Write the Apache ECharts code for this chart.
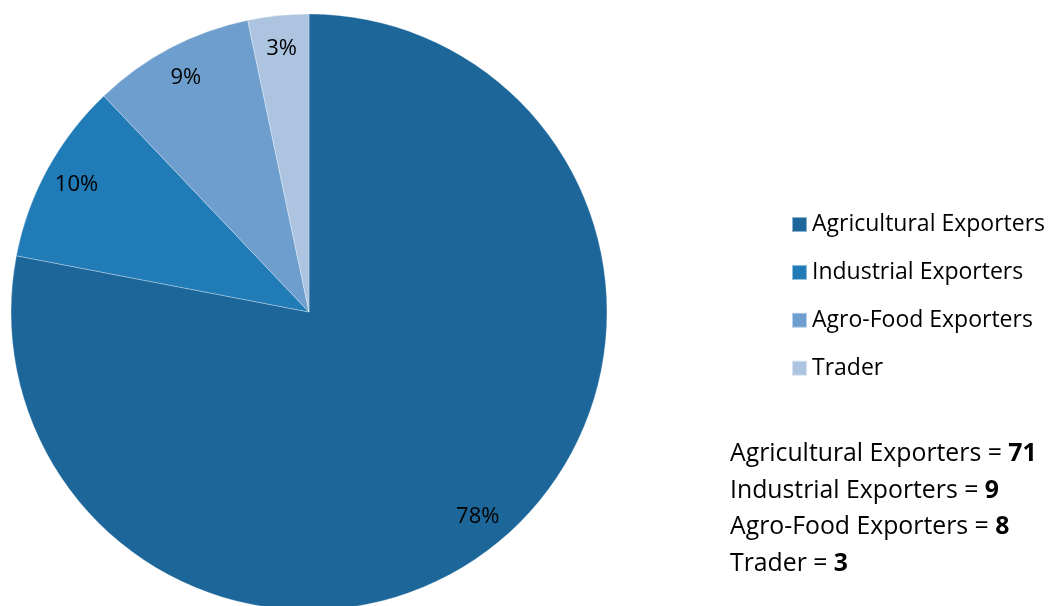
<!DOCTYPE html>
<html>
<head>
<meta charset="utf-8">
<script src="https://cdn.jsdelivr.net/npm/echarts@6/dist/echarts.min.js"></script>
<style>
  html, body { margin: 0; padding: 0; background: #ffffff; }
  #chart { width: 1050px; height: 606px; }
</style>
</head>
<body>
<div id="chart"></div>
<script>
// Exporter categories and their counts
const categories = ['Agricultural Exporters', 'Industrial Exporters', 'Agro-Food Exporters', 'Trader'];
const counts = [71, 9, 8, 3];
const colors = ['#1c6699', '#207bb7', '#6d9ecd', '#adc4e1'];

const FONT = '"Open Sans"';

const chart = echarts.init(document.getElementById('chart'), null, { renderer: 'canvas' });

const pieData = categories.map((name, i) => ({
  name: name,
  value: counts[i],
  itemStyle: { color: colors[i] }
}));

// Summary lines: "Name = <bold count>"
const summaryText = categories.map((name, i) => name + ' = {b|' + counts[i] + '}').join('\n');

chart.setOption({
  animation: false,
  backgroundColor: '#ffffff',
  legend: {
    orient: 'vertical',
    left: 786,
    top: 208,
    itemWidth: 15,
    itemHeight: 15,
    itemGap: 24.9,
    icon: 'rect',
    data: categories,
    textStyle: { fontFamily: FONT, fontSize: 23, lineHeight: 20, color: '#000000' }
  },
  series: [
    {
      type: 'pie',
      center: [309, 312],
      radius: [0, 298],
      startAngle: 90,
      clockwise: true,
      data: pieData,
      label: { show: false },
      labelLine: { show: false },
      itemStyle: { borderColor: 'rgba(255,255,255,0.5)', borderWidth: 0.6 },
      emphasis: { disabled: true }
    },
    {
      // label ring: places the percentages near the outer rim
      type: 'pie',
      center: [309, 312],
      radius: [226, 298],
      startAngle: 90,
      clockwise: true,
      silent: true,
      percentPrecision: 0,
      data: pieData.map(d => ({ name: d.name, value: d.value, itemStyle: { color: 'rgba(0,0,0,0)' } })),
      label: {
        show: true,
        position: 'inside',
        formatter: '{d}%',
        fontFamily: FONT,
        fontSize: 22,
        color: '#000000'
      },
      labelLine: { show: false },
      emphasis: { disabled: true }
    }
  ],
  graphic: [
    {
      type: 'text',
      left: 730,
      top: 436,
      style: {
        text: summaryText,
        fontFamily: FONT,
        fontSize: 24.8,
        lineHeight: 36.5,
        fill: '#000000',
        rich: {
          b: { fontFamily: FONT, fontSize: 24.8, fontWeight: 'bold', lineHeight: 36.5, fill: '#000000' }
        }
      }
    }
  ]
});
</script>
</body>
</html>
